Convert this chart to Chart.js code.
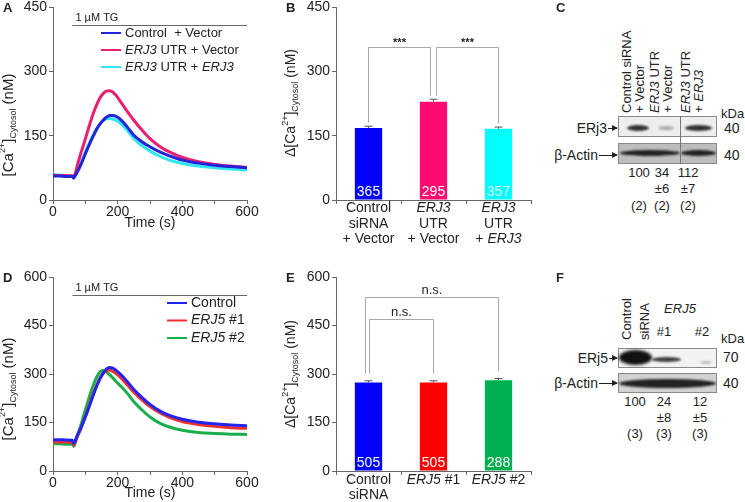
<!DOCTYPE html>
<html>
<head>
<meta charset="utf-8">
<title>ERj3 / ERj5 cytosolic calcium</title>
<script src="https://cdn.jsdelivr.net/npm/chart.js@4.4.1/dist/chart.umd.min.js"></script>
<style>
  body { margin: 0; background: #fff; }
  #fig { position: relative; width: 745px; height: 502px; overflow: hidden; font-family: "Liberation Sans", Arial, sans-serif; color: #222; }
  .panel { position: absolute; }
  .lbl { position: absolute; white-space: nowrap; line-height: 1; }
  .rot { position: absolute; white-space: nowrap; transform-origin: 0 0; transform: rotate(-90deg); }
  .blot { position: absolute; border: 1px solid #8a8a8a; box-sizing: border-box; overflow: hidden; }
  .band { position: absolute; border-radius: 50%; background: #111; filter: blur(1.2px); }
  .arrow { position: absolute; height: 1px; background: #222; }
  .arrow::after { content: ""; position: absolute; right: -1px; top: -3px; border-left: 6px solid #222; border-top: 3.5px solid transparent; border-bottom: 3.5px solid transparent; }
</style>
</head>
<body>
<div id="fig">
  <div class="panel" style="left:0;top:0;width:260px;height:245px"><canvas id="chartA"></canvas></div>
  <div class="panel" style="left:262px;top:0;width:283px;height:250px"><canvas id="chartB"></canvas></div>
  <div class="panel" style="left:0;top:270px;width:260px;height:232px"><canvas id="chartD"></canvas></div>
  <div class="panel" style="left:262px;top:270px;width:283px;height:232px"><canvas id="chartE"></canvas></div>
  <div id="blots"></div>
</div>
<script>
// ---- shared time axis of the Fura-2 traces (s) ----
const timePoints = [0, 20, 40, 60, 64, 68, 75, 85, 95, 105, 115, 125, 135, 145, 155, 165, 175, 185, 195, 210, 230, 250, 275, 300, 330, 360, 400, 450, 500, 550, 600];

// ---- Panel A: ERJ3 UTR siRNA +/- ERJ3 rescue (nM) ----
const ctrlVectorA = [56, 56, 55, 55, 51, 56, 65, 80, 98, 117, 134, 150, 165, 177, 186, 193, 197, 197, 195, 187, 170, 151, 136, 124, 112, 103, 93, 86, 81, 78, 75];
const utrVectorA = [58, 57, 57, 56, 52, 60, 80, 106, 130, 155, 180, 203, 222, 238, 248, 254, 255, 252, 244, 228, 206, 186, 163, 143, 125, 112, 99, 89, 83, 79, 76];
const utrErj3A = [58, 58, 57, 57, 53, 57, 68, 84, 102, 120, 137, 152, 166, 177, 185, 189, 190, 189, 186, 178, 162, 143, 127, 114, 102, 93, 85, 79, 75, 72, 70];
const tgA = [60, 408];          // TG added at 60 s, bar drawn at 408 nM

// ---- Panel B: amplitude of the TG response ----
// _text_ = italic
const categoriesB = [['Control', 'siRNA', '+ Vector'], ['_ERJ3_', 'UTR', '+ Vector'], ['_ERJ3_', 'UTR', '+ _ERJ3_']];
const meanB = [168, 229, 166];
const semB = [4, 6, 4];
const cellsB = ['365', '295', '357'];
const sigB = [[0, 1, '***', 357], [1, 2, '***', 357]];

// ---- Panel D: ERJ5 siRNAs ----
const controlD = [96, 97, 96, 95, 85, 92, 110, 130, 155, 180, 208, 236, 262, 285, 302, 315, 320, 318, 311, 298, 276, 252, 228, 206, 186, 172, 160, 151, 146, 142, 140];
const erj5no1D = [90, 90, 90, 89, 80, 88, 106, 128, 155, 182, 212, 240, 265, 287, 302, 310, 312, 308, 301, 288, 266, 244, 220, 199, 180, 166, 153, 144, 138, 134, 132];
const erj5no2D = [84, 84, 83, 83, 76, 85, 108, 138, 172, 205, 238, 266, 290, 306, 311, 307, 298, 288, 277, 262, 240, 214, 189, 167, 148, 136, 126, 119, 116, 114, 113];
const tgD = [60, 544];

// ---- Panel E ----
const categoriesE = [['Control', 'siRNA'], ['_ERJ5_ #1'], ['_ERJ5_ #2']];
const meanE = [274, 274, 281];
const semE = [5, 5, 5];
const cellsE = ['505', '505', '288'];
const sigE = [[0, 1, 'n.s.', 470], [0, 2, 'n.s.', 538]];

// ---- Western blot quantification (C, F) ----
const quantC = [['100'], ['34', '±6'], ['112', '±7']];
const nC = ['(2)', '(2)', '(2)'];
const quantF = [['100'], ['24', '±8'], ['12', '±5']];
const nF = ['(3)', '(3)', '(3)'];

const FONT = '"Liberation Sans", Arial, sans-serif';
Chart.defaults.font.family = FONT;
Chart.defaults.font.size = 14;
Chart.defaults.color = '#222';
Chart.defaults.animation = false;

function fontStr(size, italic, weight) {
    return [italic ? 'italic' : '', weight || '', size + 'px', FONT].filter(Boolean).join(' ');
}

// text with _italic_ parts
function richText(ctx, str, x, y, size, align, color, weight) {
    const parts = str.split('_');
    let total = 0;
    const widths = parts.map((p, i) => {
        ctx.font = fontStr(size, i % 2 === 1, weight);
        const w = ctx.measureText(p).width;
        total += w;
        return w;
    });
    let cx = align === 'center' ? x - total / 2 : (align === 'right' ? x - total : x);
    ctx.textAlign = 'left';
    ctx.textBaseline = 'middle';
    ctx.fillStyle = color || '#222';
    parts.forEach((p, i) => {
        ctx.font = fontStr(size, i % 2 === 1, weight);
        ctx.fillText(p, cx, y);
        cx += widths[i];
    });
}

// rotated "[Ca2+]Cytosol (nM)" axis title
function caTitle(ctx, cx, cy, size, delta) {
    const small = Math.round(size * 0.62);
    const segs = [
        { t: (delta ? 'Δ' : '') + '[Ca', s: size, dy: 0 },
        { t: '2+', s: small, dy: -size * 0.4 },
        { t: ']', s: size, dy: 0 },
        { t: 'Cytosol', s: small, dy: size * 0.32 },
        { t: ' (nM)', s: size, dy: 0 }
    ];
    ctx.save();
    ctx.translate(cx, cy);
    ctx.rotate(-Math.PI / 2);
    ctx.textAlign = 'left';
    ctx.textBaseline = 'middle';
    ctx.fillStyle = '#222';
    let total = 0;
    segs.forEach(s => { ctx.font = fontStr(s.s); s.w = ctx.measureText(s.t).width; total += s.w; });
    let x = -total / 2;
    segs.forEach(s => { ctx.font = fontStr(s.s); ctx.fillText(s.t, x, s.dy); x += s.w; });
    ctx.restore();
}

function line(ctx, x1, y1, x2, y2) {
    ctx.beginPath();
    ctx.moveTo(x1, y1);
    ctx.lineTo(x2, y2);
    ctx.stroke();
}

// keep scale boxes at fixed sizes so the plot areas line up with the figure
function fixSize(size) {
    return function(s) {
        if (s.isHorizontal()) s.height = size; else s.width = size;
        s.paddingTop = 0; s.paddingBottom = 0; s.paddingLeft = 0; s.paddingRight = 0;
    };
}

function axisStyle() {
    return {
        grid: { drawOnChartArea: false, tickLength: 4, color: '#666' },
        border: { color: '#666', width: 1 }
    };
}

// TG bar, legend and axis titles of the trace panels
const tracePlugin = {
    id: 'traceExtras',
    afterDraw(chart, args, o) {
        const { ctx, chartArea: a, scales: { x, y } } = chart;
        ctx.save();
        const ty = Math.round(y.getPixelForValue(o.tg[1])) + 0.5;
        const tx = x.getPixelForValue(o.tg[0]);
        ctx.strokeStyle = '#666';
        ctx.lineWidth = 1;
        line(ctx, tx, ty, a.right, ty);
        richText(ctx, '1 µM TG', tx + 3, ty - 8, 11);

        chart.data.datasets.forEach((ds, i) => {
            const ly = o.legendY + i * o.legendGap;
            ctx.strokeStyle = ds.borderColor;
            ctx.lineWidth = 2;
            line(ctx, o.legendX, ly, o.legendX + 20, ly);
            richText(ctx, ds.label, o.legendX + 24, ly, o.legendSize);
        });

        caTitle(ctx, o.titleX, o.titleY, 15, false);
        richText(ctx, 'Time (s)', (a.left + a.right) / 2, a.bottom + o.xTitleGap, 14, 'center');
        ctx.restore();
    }
};

function traceChart(id, series, yMax, extras) {
    return new Chart(document.getElementById(id), {
        type: 'line',
        data: {
            datasets: series.map(s => ({
                label: s.label,
                data: timePoints.map((t, i) => ({ x: t, y: s.values[i] })),
                borderColor: s.color,
                borderWidth: 3,
                pointRadius: 0,
                cubicInterpolationMode: 'monotone'
            }))
        },
        options: {
            responsive: true,
            maintainAspectRatio: false,
            layout: { padding: { top: 7, right: 13, left: 0, bottom: 0 } },
            plugins: { legend: { display: false }, tooltip: { enabled: false }, traceExtras: extras },
            scales: {
                x: Object.assign(axisStyle(), {
                    type: 'linear', min: 0, max: 600,
                    ticks: { stepSize: 100, padding: 0, autoSkip: false, maxRotation: 0,
                        callback: v => (v % 200 === 0 ? v : '') },
                    afterFit: fixSize(extras.xHeight)
                }),
                y: Object.assign(axisStyle(), {
                    min: 0, max: yMax,
                    ticks: { stepSize: 150, padding: 2 },
                    afterFit: fixSize(53)
                })
            }
        },
        plugins: [tracePlugin]
    });
}

// error bars, cell counts, significance brackets, category labels
const barPlugin = {
    id: 'barExtras',
    afterDraw(chart, args, o) {
        const { ctx, chartArea: a, scales: { x, y } } = chart;
        ctx.save();
        ctx.strokeStyle = '#555';
        ctx.lineWidth = 1;
        o.mean.forEach((m, i) => {
            const cx = x.getPixelForValue(i);
            const top = y.getPixelForValue(m + o.sem[i]);
            line(ctx, cx, y.getPixelForValue(m), cx, top);
            line(ctx, cx - 4, top, cx + 4, top);
            richText(ctx, o.cells[i], cx, a.bottom - 8, 14, 'center', o.cellColors[i]);
            o.categories[i].forEach((t, k) => richText(ctx, t, cx, a.bottom + o.labelGaps[k], 14, 'center'));
        });

        ctx.strokeStyle = '#a8a8a8';
        o.sig.forEach((s, k) => {
            const [i, j, label, level] = s;
            const x1 = x.getPixelForValue(i) + o.sigOffsets[k][0];
            const x2 = x.getPixelForValue(j) + o.sigOffsets[k][1];
            const yt = Math.round(y.getPixelForValue(level)) + 0.5;
            const y1 = y.getPixelForValue(o.mean[i] + o.sem[i] + o.bracketGap);
            const y2 = y.getPixelForValue(o.mean[j] + o.sem[j] + o.bracketGap);
            ctx.beginPath();
            ctx.moveTo(x1, y1);
            ctx.lineTo(x1, yt);
            ctx.lineTo(x2, yt);
            ctx.lineTo(x2, y2);
            ctx.stroke();
            richText(ctx, label, (x1 + x2) / 2, yt - o.sigLift, o.sigSize, 'center', '#222', o.sigWeight);
        });

        caTitle(ctx, o.titleX, o.titleY, 14, true);
        ctx.restore();
    }
};

function barChart(id, categories, mean, colors, extras) {
    return new Chart(document.getElementById(id), {
        type: 'bar',
        data: {
            labels: categories.map(c => c.join(' ').replace(/_/g, '')),
            datasets: [{ data: mean, backgroundColor: colors, barPercentage: 0.42, categoryPercentage: 1 }]
        },
        options: {
            responsive: true,
            maintainAspectRatio: false,
            layout: { padding: { top: extras.top, right: 14, left: 0, bottom: 0 } },
            plugins: { legend: { display: false }, tooltip: { enabled: false },
                barExtras: Object.assign({ categories, mean }, extras) },
            scales: {
                x: Object.assign(axisStyle(), {
                    ticks: { callback: () => '' },
                    afterFit: fixSize(extras.xHeight)
                }),
                y: Object.assign(axisStyle(), {
                    min: 0, max: extras.yMax,
                    ticks: { stepSize: 150, padding: 2 },
                    afterFit: fixSize(74)
                })
            }
        },
        plugins: [barPlugin]
    });
}

traceChart('chartA', [
    { label: 'Control  + Vector', values: ctrlVectorA, color: '#2323d8' },
    { label: '_ERJ3_ UTR + Vector', values: utrVectorA, color: '#e8206e' },
    { label: '_ERJ3_ UTR + _ERJ3_', values: utrErj3A, color: '#2fe6f2' }
], 450, { tg: tgA, xHeight: 45, legendX: 101, legendY: 33, legendGap: 17, legendSize: 13,
          titleX: 9, titleY: 125, xTitleGap: 23 });

traceChart('chartD', [
    { label: 'Control', values: controlD, color: '#2424f0' },
    { label: '_ERJ5_ #1', values: erj5no1D, color: '#f03030' },
    { label: '_ERJ5_ #2', values: erj5no2D, color: '#1aae4a' }
], 600, { tg: tgD, xHeight: 31, legendX: 167, legendY: 33, legendGap: 17.5, legendSize: 14,
          titleX: 9, titleY: 119, xTitleGap: 22 });

barChart('chartB', categoriesB, meanB, ['#0000ff', '#ff0a70', '#00ffff'], {
    top: 7, xHeight: 50, yMax: 450, sem: semB, cells: cellsB, cellColors: ['#fff', '#fff', '#d8ffff'],
    sig: sigB, sigOffsets: [[0, -3], [3, 0]], sigSize: 11, sigWeight: 'bold', sigLift: 5, bracketGap: 8,
    labelGaps: [8, 24, 39], titleX: 29, titleY: 103
});

barChart('chartE', categoriesE, meanE, ['#0000ff', '#ff0000', '#00b050'], {
    top: 7, xHeight: 31, yMax: 600, sem: semE, cells: cellsE, cellColors: ['#fff', '#fff', '#fff'],
    sig: sigE, sigOffsets: [[1, 0], [-3, 0]], sigSize: 13, sigWeight: '', sigLift: 7, bracketGap: 22,
    labelGaps: [9, 24], titleX: 29, titleY: 104
});

// ---- panel letters and western blots (plain HTML) ----
const fig = document.getElementById('blots');

function put(html, x, y, size, align, extra) {
    const d = document.createElement('div');
    d.className = 'lbl';
    d.innerHTML = html;
    const tx = align === 'center' ? '-50%' : (align === 'right' ? '-100%' : '0');
    d.style.cssText = `left:${x}px;top:${y}px;font-size:${size}px;transform:translate(${tx},-50%);${extra || ''}`;
    fig.appendChild(d);
    return d;
}

function rot(html, cx, bottom, size) {
    const d = document.createElement('div');
    d.className = 'rot';
    d.innerHTML = html;
    d.style.cssText = `left:${cx - size / 2}px;top:${bottom}px;font-size:${size}px;line-height:${size}px;`;
    fig.appendChild(d);
}

function box(x, y, w, h, bg) {
    const d = document.createElement('div');
    d.className = 'blot';
    d.style.cssText = `left:${x}px;top:${y}px;width:${w}px;height:${h}px;background:${bg};`;
    fig.appendChild(d);
}

function band(x, y, w, h, op, blur) {
    const d = document.createElement('div');
    d.className = 'band';
    d.style.cssText = `left:${x}px;top:${y}px;width:${w}px;height:${h}px;opacity:${op};filter:blur(${blur || 1.2}px);`;
    fig.appendChild(d);
}

function arrowLabel(text, textRight, y) {
    put(text, textRight, y, 14, 'right');
    const a = document.createElement('div');
    a.className = 'arrow';
    a.style.cssText = `left:${textRight + 1}px;top:${y}px;width:${616 - textRight}px;`;
    fig.appendChild(a);
}

[['A', 3, 7], ['B', 286, 7], ['C', 556, 7], ['D', 3, 277], ['E', 286, 277], ['F', 556, 277]].forEach(l => {
    put(l[0], l[1], l[2], 13, 'left', 'font-weight:bold;');
});

// C: ERj3 blot
rot('Control siRNA', 626, 113, 13);
rot('+ Vector', 639, 113, 13);
rot('<i>ERJ3</i> UTR', 654, 113, 13);
rot('+ Vector', 667, 113, 13);
rot('<i>ERJ3</i> UTR', 685, 113, 13);
rot('+ <i>ERJ3</i>', 698, 113, 13);
put('kDa', 721, 113, 13);
box(618, 116, 99, 21, '#eeeeee');
band(627, 125, 22, 6, 0.85);
band(658, 126, 16, 4, 0.3);
band(685, 125, 27, 6, 0.85);
box(618, 143, 99, 21, '#bdbdbd');
band(620, 150, 60, 6, 0.9);
band(681, 150, 35, 6, 0.9);
const divC = document.createElement('div');
divC.style.cssText = 'position:absolute;left:680px;top:116px;width:1px;height:48px;background:#777;';
fig.appendChild(divC);
arrowLabel('ERj3', 607, 128);
arrowLabel('β-Actin', 598, 155);
put('40', 724, 128, 14);
put('40', 724, 155, 14);
[639, 662, 688].forEach((cx, i) => {
    quantC[i].forEach((t, k) => put(t, cx, 172 + k * 16, 13, 'center'));
    put(nC[i], cx, 205, 13, 'center');
});

// F: ERj5 blot
rot('Control', 626, 340, 13);
rot('siRNA', 644, 340, 13);
put('<i>ERJ5</i>', 680, 308, 13, 'center');
put('#1', 664, 331, 13, 'center');
put('#2', 702, 331, 13, 'center');
put('kDa', 721, 338, 13);
box(618, 348, 99, 20, '#f2f2f2');
band(619, 350, 33, 15, 1, 1.5);
band(652, 357, 29, 5, 0.8);
band(700, 361, 12, 3, 0.25);
box(618, 373, 99, 20, '#d2d2d2');
band(619, 379, 97, 9, 0.9);
arrowLabel('ERj5', 608, 358);
arrowLabel('β-Actin', 598, 383);
put('70', 723, 357, 14);
put('40', 723, 383, 14);
[635, 664, 700].forEach((cx, i) => {
    quantF[i].forEach((t, k) => put(t, cx, 401 + k * 16, 13, 'center'));
    put(nF[i], cx, 433, 13, 'center');
});
</script>
</body>
</html>
